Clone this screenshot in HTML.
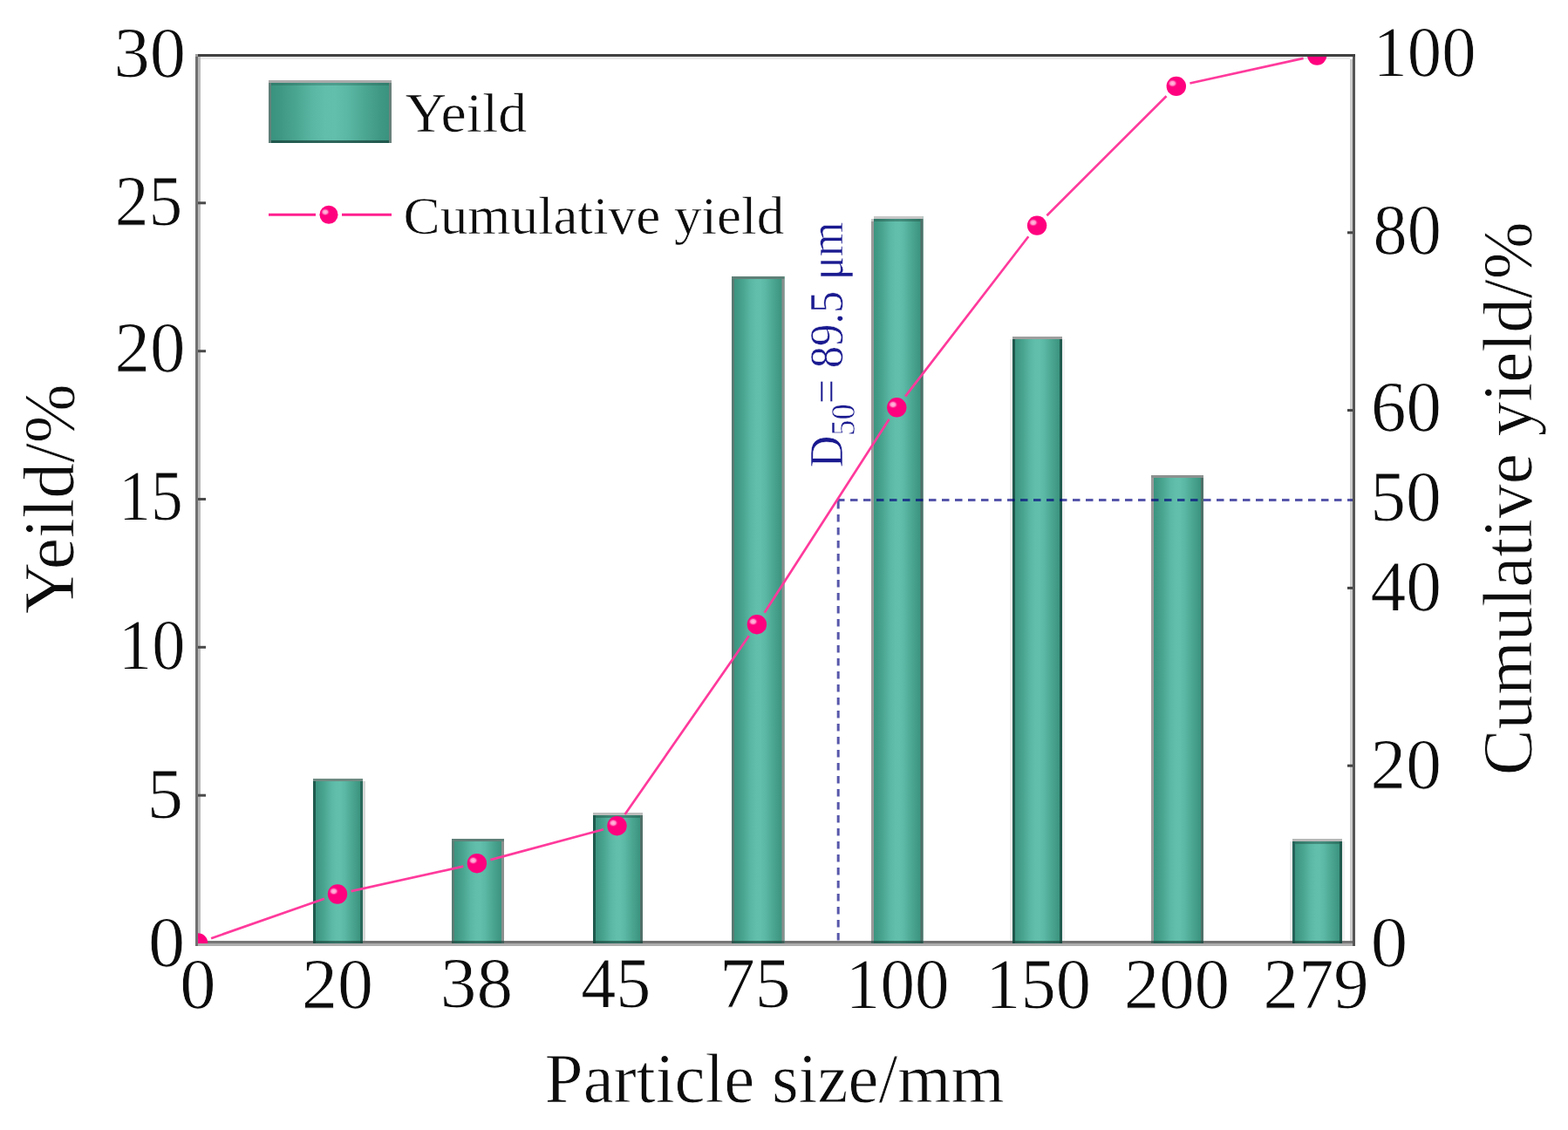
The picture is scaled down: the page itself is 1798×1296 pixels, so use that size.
<!DOCTYPE html>
<html lang="en"><head><meta charset="utf-8"><title>Particle size distribution</title>
<style>
html,body{margin:0;padding:0;background:#fff;}
body{width:1798px;height:1296px;overflow:hidden;}
svg{display:block;}
text{font-family:"Liberation Serif","DejaVu Serif",serif;fill:#0c0c0c;stroke:#fff;stroke-width:0.8px;paint-order:fill stroke;}
</style>
</head><body>
<svg width="1798" height="1296" viewBox="0 0 1798 1296">
<defs>
<linearGradient id="bg" x1="0" y1="0" x2="1" y2="0"><stop offset="0" stop-color="#38917d"/><stop offset="0.1" stop-color="#3f9883"/><stop offset="0.22" stop-color="#4aa590"/><stop offset="0.36" stop-color="#5ab7a3"/><stop offset="0.46" stop-color="#61beaa"/><stop offset="0.54" stop-color="#62bfab"/><stop offset="0.64" stop-color="#5bb8a4"/><stop offset="0.78" stop-color="#4ca792"/><stop offset="0.9" stop-color="#409984"/><stop offset="1" stop-color="#38917d"/></linearGradient>
<radialGradient id="hl" cx="0.5" cy="0.5" r="0.5"><stop offset="0" stop-color="#ffc4e2"/><stop offset="0.5" stop-color="#ff9ccd" stop-opacity="0.95"/><stop offset="1" stop-color="#ff007f" stop-opacity="0"/></radialGradient>
<clipPath id="plot"><rect x="227" y="65" width="1324" height="1017"/></clipPath>
<g id="mk"><circle r="11.2" fill="#ff007f"/><ellipse cx="-4.3" cy="-3.3" rx="5.8" ry="4.8" fill="url(#hl)"/></g>
</defs>
<rect width="1798" height="1296" fill="#fff"/>
<g id="frame">
<rect x="227" y="62" width="1327" height="3" fill="#404040"/>
<rect x="224" y="62" width="3" height="3" fill="#9c9c9c"/>
<rect x="230" y="65" width="1318" height="3" fill="#e9e9e9"/>
<rect x="224" y="65" width="3" height="1020" fill="#707070"/>
<rect x="227" y="65" width="3" height="1014" fill="#b9b9b9"/>
<rect x="1551" y="65" width="3" height="1020" fill="#565656"/>
<rect x="1548" y="68" width="3" height="1011" fill="#cdcdcd"/>
<rect x="227" y="1079" width="1324" height="3" fill="#767676"/>
<rect x="227" y="1082" width="1324" height="3" fill="#aeaeae"/>
<rect x="227" y="910.7" width="9" height="3" fill="#4a4a4a"/>
<rect x="227" y="740.8" width="9" height="3" fill="#4a4a4a"/>
<rect x="227" y="571.0" width="9" height="3" fill="#4a4a4a"/>
<rect x="227" y="401.2" width="9" height="3" fill="#4a4a4a"/>
<rect x="227" y="231.3" width="9" height="3" fill="#4a4a4a"/>
<rect x="1545" y="876.7" width="6" height="3" fill="#444"/>
<rect x="1545" y="672.9" width="6" height="3" fill="#444"/>
<rect x="1545" y="469.1" width="6" height="3" fill="#444"/>
<rect x="1545" y="265.3" width="6" height="3" fill="#444"/>
</g>
<g id="bars">
<rect x="416.0" y="896.0" width="3" height="183.0" fill="#d8d8d8"/>
<rect x="359.0" y="893.0" width="57.0" height="189.0" fill="url(#bg)"/>
<rect x="359.0" y="896.0" width="3" height="186.0" fill="#1f5a4e"/>
<rect x="413.0" y="896.0" width="3" height="186.0" fill="#2a6a5c"/>
<rect x="359.0" y="893.0" width="57.0" height="3" fill="#6f8a82"/>
<rect x="359.0" y="1079" width="57.0" height="3" fill="#173f37" fill-opacity="0.62"/>
<rect x="518.0" y="962.0" width="60.0" height="120.0" fill="url(#bg)"/>
<rect x="518.0" y="965.0" width="3" height="117.0" fill="#5a7c74"/>
<rect x="575.0" y="965.0" width="3" height="117.0" fill="#8a8f8e"/>
<rect x="518.0" y="962.0" width="60.0" height="3" fill="#607f78"/>
<rect x="518.0" y="1079" width="60.0" height="3" fill="#173f37" fill-opacity="0.62"/>
<rect x="680.0" y="932.0" width="57.0" height="150.0" fill="url(#bg)"/>
<rect x="680.0" y="935.0" width="3" height="147.0" fill="#1f5a4e"/>
<rect x="734.0" y="935.0" width="3" height="147.0" fill="#4f7068"/>
<rect x="680.0" y="932.0" width="57.0" height="3" fill="#bcbcbc"/>
<rect x="683.0" y="935.0" width="51.0" height="3" fill="#1f4f45" fill-opacity="0.45"/>
<rect x="680.0" y="1079" width="57.0" height="3" fill="#173f37" fill-opacity="0.62"/>
<rect x="839.0" y="317.0" width="60.5" height="765.0" fill="url(#bg)"/>
<rect x="839.0" y="320.0" width="3" height="762.0" fill="#587a72"/>
<rect x="896.5" y="320.0" width="3" height="762.0" fill="#8a8f8e"/>
<rect x="839.0" y="317.0" width="60.5" height="3" fill="#5f7f77"/>
<rect x="839.0" y="1079" width="60.5" height="3" fill="#173f37" fill-opacity="0.62"/>
<rect x="999.0" y="248.0" width="59.5" height="834.0" fill="url(#bg)"/>
<rect x="999.0" y="251.0" width="3" height="831.0" fill="#999999"/>
<rect x="1055.5" y="251.0" width="3" height="831.0" fill="#4f7068"/>
<rect x="1002.0" y="248.0" width="56.5" height="3" fill="#c6c6c6"/>
<rect x="999.0" y="248.0" width="3" height="3" fill="#fff"/>
<rect x="999.0" y="251.0" width="3" height="3" fill="#c4c4c4"/>
<rect x="1002.0" y="251.0" width="53.5" height="3" fill="#1f4f45" fill-opacity="0.45"/>
<rect x="999.0" y="1079" width="59.5" height="3" fill="#173f37" fill-opacity="0.62"/>
<rect x="1158.0" y="389.0" width="3" height="690.0" fill="#ececec"/>
<rect x="1218.0" y="389.0" width="3" height="690.0" fill="#f2f2f2"/>
<rect x="1161.0" y="386.0" width="57.0" height="696.0" fill="url(#bg)"/>
<rect x="1161.0" y="389.0" width="3" height="693.0" fill="#1f5a4e"/>
<rect x="1215.0" y="389.0" width="3" height="693.0" fill="#215c50"/>
<rect x="1161.0" y="386.0" width="57.0" height="3" fill="#9e9e9e"/>
<rect x="1161.0" y="1079" width="57.0" height="3" fill="#173f37" fill-opacity="0.62"/>
<rect x="1320.0" y="545.0" width="60.0" height="537.0" fill="url(#bg)"/>
<rect x="1320.0" y="548.0" width="3" height="534.0" fill="#9a9a9a"/>
<rect x="1377.0" y="548.0" width="3" height="534.0" fill="#4f7068"/>
<rect x="1320.0" y="545.0" width="60.0" height="3" fill="#8c9190"/>
<rect x="1320.0" y="1079" width="60.0" height="3" fill="#173f37" fill-opacity="0.62"/>
<rect x="1479.0" y="965.0" width="3" height="114.0" fill="#ececec"/>
<rect x="1539.0" y="965.0" width="3" height="114.0" fill="#f0f0f0"/>
<rect x="1482.0" y="962.0" width="57.0" height="120.0" fill="url(#bg)"/>
<rect x="1482.0" y="965.0" width="3" height="117.0" fill="#25635a"/>
<rect x="1536.0" y="965.0" width="3" height="117.0" fill="#1f5a4e"/>
<rect x="1482.0" y="962.0" width="57.0" height="3" fill="#b8b8b8"/>
<rect x="1485.0" y="965.0" width="51.0" height="3" fill="#1f4f45" fill-opacity="0.45"/>
<rect x="1482.0" y="1079" width="57.0" height="3" fill="#173f37" fill-opacity="0.62"/>
</g>
<g stroke="#000080" stroke-opacity="0.66" stroke-width="3" stroke-dasharray="8.5 6.5" fill="none">
<line x1="960" y1="573.5" x2="1551" y2="573.5"/>
<line x1="961.2" y1="575" x2="961.2" y2="1082"/>
</g>
<g clip-path="url(#plot)">
<path d="M242.1 1076.2L371.9 1030.8M402.6 1022.1L531.3 993.6M562.4 986.1L692.0 951.3M716.6 934.1L858.8 729.3M876.6 702.8L1019.6 480.7M1038.1 454.6L1179.3 271.3M1200.4 247.3L1337.5 110.2M1364.4 95.5L1494.6 66.9" stroke="#ff3a9c" stroke-width="2.7" fill="none"/>
<use href="#mk" x="227.0" y="1081.5"/>
<use href="#mk" x="387.0" y="1025.5"/>
<use href="#mk" x="546.9" y="990.2"/>
<use href="#mk" x="707.5" y="947.2"/>
<use href="#mk" x="867.9" y="716.2"/>
<use href="#mk" x="1028.3" y="467.3"/>
<use href="#mk" x="1189.1" y="258.6"/>
<use href="#mk" x="1348.8" y="98.9"/>
<use href="#mk" x="1510.2" y="63.5"/>
</g>
<g id="legend">
<rect x="308" y="92" width="141" height="72" fill="url(#bg)"/>
<rect x="308" y="95" width="3" height="69" fill="#607f78"/>
<rect x="446" y="95" width="3" height="69" fill="#6a827c"/>
<rect x="308" y="92" width="141" height="3" fill="#ababab"/>
<rect x="311" y="95" width="135" height="3" fill="#1f4f45" fill-opacity="0.3"/>
<rect x="311" y="161" width="135" height="3" fill="#173f37" fill-opacity="0.7"/>
<path d="M308 246.3H362M392 246.3H449" stroke="#ff1f8f" stroke-width="3" fill="none"/>
<use href="#mk" x="377" y="246.3" transform="translate(377 246.3) scale(0.94) translate(-377 -246.3)"/>
</g>
<g id="labels">
<text id="lg1" x="463.0" y="151.3" transform="matrix(1.0436 0 0 1.0174 -18.59 -2.44)" font-size="63" style="stroke-width:0.6px">Yeild</text>
<text id="lg2" x="463.0" y="267.8" transform="matrix(1.0023 0 0 0.9814 -1.47 4.76)" font-size="63" style="stroke-width:0.6px">Cumulative yield</text>
<text id="yl0" x="211.0" y="1107.0" transform="matrix(1.0286 0 0 1.0120 -4.94 -12.71)" font-size="82" text-anchor="end">0</text>
<text id="yl5" x="211.0" y="937.2" transform="matrix(1.0076 0 0 1.0120 -2.58 -10.93)" font-size="82" text-anchor="end">5</text>
<text id="yl10" x="211.0" y="767.3" transform="matrix(0.9306 0 0 1.0120 15.94 -9.25)" font-size="82" text-anchor="end">10</text>
<text id="yl15" x="211.0" y="597.5" transform="matrix(0.8958 0 0 1.0120 20.67 -8.73)" font-size="82" text-anchor="end">15</text>
<text id="yl20" x="211.0" y="427.7" transform="matrix(0.9868 0 0 1.0120 4.24 -6.44)" font-size="82" text-anchor="end">20</text>
<text id="yl25" x="211.0" y="257.8" transform="matrix(0.9441 0 0 1.0120 9.88 -2.52)" font-size="82" text-anchor="end">25</text>
<text id="yl30" x="211.0" y="88.0" transform="matrix(1.0067 0 0 1.0120 0.61 -1.36)" font-size="82" text-anchor="end">30</text>
<text id="yr0" x="1574.0" y="1107.0" transform="matrix(1.0357 0 0 1.0120 -58.32 -12.71)" font-size="82">0</text>
<text id="yr20" x="1574.0" y="903.2" transform="matrix(0.9934 0 0 1.0120 7.88 -10.39)" font-size="82">20</text>
<text id="yr40" x="1574.0" y="699.4" transform="matrix(0.9936 0 0 1.0120 7.60 -8.19)" font-size="82">40</text>
<text id="yr50" x="1574.0" y="597.5" transform="matrix(0.9966 0 0 1.0120 2.58 -7.48)" font-size="82">50</text>
<text id="yr60" x="1574.0" y="495.6" transform="matrix(0.9868 0 0 1.0120 18.75 -7.26)" font-size="82">60</text>
<text id="yr80" x="1574.0" y="291.8" transform="matrix(0.9539 0 0 1.0120 73.12 -4.31)" font-size="82">80</text>
<text id="yr100" x="1574.0" y="88.0" transform="matrix(0.9580 0 0 1.0120 66.71 -1.61)" font-size="82">100</text>
<text id="xl0" x="227.0" y="1157.0" transform="matrix(1.0069 0 0 1.0120 -1.70 -15.06)" font-size="82" text-anchor="middle">0</text>
<text id="xl1" x="387.5" y="1157.0" transform="matrix(1.0000 0 0 1.0120 -0.50 -15.06)" font-size="82" text-anchor="middle">20</text>
<text id="xl2" x="547.0" y="1157.0" transform="matrix(1.0167 0 0 1.0120 -9.75 -15.57)" font-size="82" text-anchor="middle">38</text>
<text id="xl3" x="705.6" y="1157.0" transform="matrix(0.9776 0 0 1.0120 16.44 -15.57)" font-size="82" text-anchor="middle">45</text>
<text id="xl4" x="867.0" y="1157.0" transform="matrix(0.9966 0 0 1.0120 1.81 -15.57)" font-size="82" text-anchor="middle">75</text>
<text id="xl5" x="1030.6" y="1157.0" transform="matrix(0.9646 0 0 1.0120 35.05 -15.06)" font-size="82" text-anchor="middle">100</text>
<text id="xl6" x="1192.5" y="1157.0" transform="matrix(0.9823 0 0 1.0120 19.14 -15.06)" font-size="82" text-anchor="middle">150</text>
<text id="xl7" x="1349.5" y="1157.0" transform="matrix(0.9829 0 0 1.0120 23.07 -15.06)" font-size="82" text-anchor="middle">200</text>
<text id="xl8" x="1509.0" y="1157.0" transform="matrix(0.9849 0 0 1.0120 22.89 -15.06)" font-size="82" text-anchor="middle">279</text>
<text id="xt" x="889.0" y="1264.0" transform="matrix(0.9841 0 0 1.0158 13.44 -19.67)" font-size="80" text-anchor="middle">Particle size/mm</text>
<text id="ylt" transform="matrix(1.0246 0 0 1.0205 -1.36 -12.65) translate(83.0 573.0) rotate(-90)" font-size="80" text-anchor="middle">Yeild/%</text>
<text id="yrt" transform="matrix(0.9932 0 0 0.9890 12.14 7.02) translate(1756.0 571.0) rotate(-90)" font-size="80" text-anchor="middle">Cumulative yield/%</text>
<text id="d50" transform="matrix(1.0100 0 0 0.9365 -9.30 25.57) translate(965.5 395.0) rotate(-90)" font-size="54" text-anchor="middle" style="fill:#1a1a90;stroke-width:0.5px">D<tspan font-size="39" dy="14">50</tspan><tspan dy="-14">= 89.5 μm</tspan></text>
</g>
</svg>
</body></html>
